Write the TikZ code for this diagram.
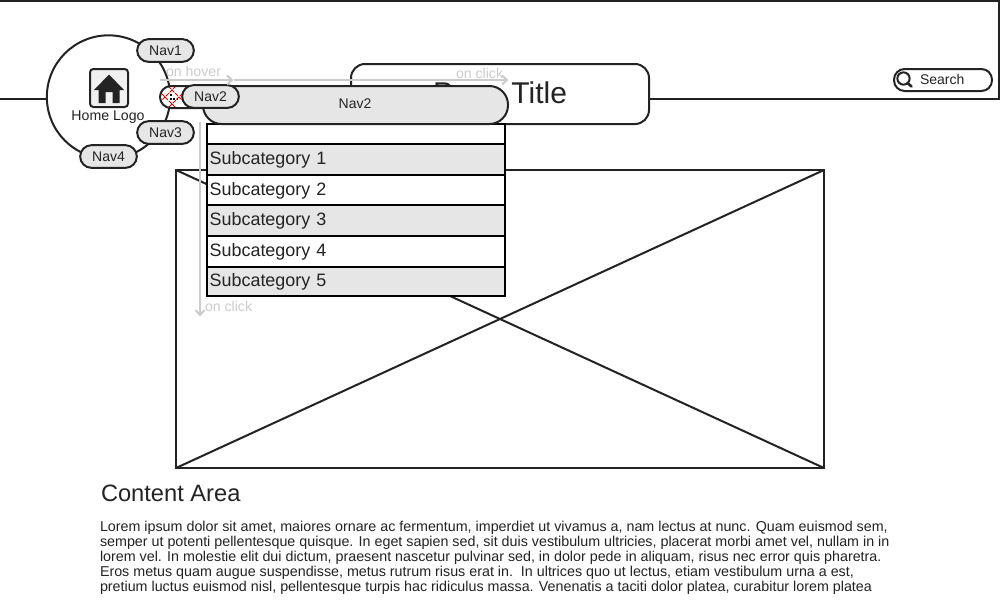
\documentclass[tikz,border=0pt]{standalone}
\usepackage{fontspec}
\setmainfont{Liberation Sans}
\definecolor{ink}{HTML}{232323}
\definecolor{panel}{HTML}{E6E6E6}
\definecolor{note}{HTML}{CCCCCC}
\newcommand{\fs}[1]{\fontsize{#1}{#1}\selectfont}
\tikzset{
  x=0.75pt,y=-0.75pt,
  every node/.style={outer sep=0pt},
  edge/.style={draw=ink,line width=1.5pt},
  navpill/.style={edge,fill=panel,rounded corners=8.5pt,minimum width=42.5pt,minimum height=17pt,inner sep=0pt,text=ink,font=\fs{10.5}},
  hint/.style={note,line width=1.5pt},
  hinttext/.style={text=note,font=\fs{10.6},inner sep=0pt,anchor=base west},
  rowbox/.style={draw=black,line width=1.5pt,minimum width=223.5pt,minimum height=23.25pt,inner sep=0pt,anchor=north west,text=ink,font=\fs{13.45},align=left,text width=219.5pt},
  lowrow/.style={text height=9.7pt,text depth=1.6pt},
  bodytext/.style={text=ink,font=\fs{10.72},inner sep=0pt,anchor=base west},
}
\begin{document}
\begin{tikzpicture}
\useasboundingbox (0,0) rectangle (1000,600);
\fill[white] (0,0) rectangle (1000,600);
% header
\draw[edge] (-5,1) -- (999,1) -- (999,99) -- (-5,99);
% logo circle
\node[edge,fill=white,circle,minimum size=92.5pt,inner sep=0pt] (logo) at (108.5,97) {};
\node[edge,fill=panel!60!white,rounded corners=2.5pt,minimum size=28.5pt,inner sep=0pt] (icon) at (109,88) {};
\fill[ink] (109,74.5) -- (124,90) -- (119.5,90) -- (119.5,103) -- (112.5,103) -- (112.5,92) -- (105.5,92) -- (105.5,103) -- (98.5,103) -- (98.5,90) -- (94,90) -- cycle;
\node[text=ink,font=\fs{10.6},inner sep=0pt,anchor=base] (homelabel) at (108,120.5) {Home Logo};
\node[navpill] (nav1) at (165.5,50.5) {Nav1};
\node[navpill] (nav3) at (165.5,132.5) {Nav3};
\node[navpill] (nav4) at (108.5,156.5) {Nav4};
% page title
\node[edge,fill=white,rounded corners=10.5pt,minimum width=223.5pt,minimum height=45pt,inner sep=0pt] (title) at (500,94) {};
\node[text=ink,font=\fs{22.5},inner sep=0pt,anchor=base] (titlelabel) at (500,103) {Page Title};
% search
\node[edge,fill=white,rounded corners=8pt,minimum width=73.5pt,minimum height=16.5pt,inner sep=0pt] (search) at (943,80) {};
\node[text=ink,font=\fs{10.5},inner sep=0pt,anchor=base west] (searchlabel) at (920,84) {Search};
\draw[ink,line width=1.5pt] (903.5,78.5) circle (4.6pt);
\draw[ink,line width=2pt,line cap=round] (907.5,83) -- (911.5,86.5);
% image placeholder
\node[edge,fill=white,minimum width=486pt,minimum height=223.5pt,inner sep=0pt,anchor=north west] (image) at (176,170) {};
\draw[edge] (image.north west) -- (image.south east);
\draw[edge] (image.south west) -- (image.north east);
% hidden red item
\fill[white,rounded corners=8pt] (160,86) rectangle (205,108);
\begin{scope}
\clip[rounded corners=8pt] (160,86) rectangle (205,108);
\draw[red!90!black,dash pattern=on 3pt off 0.8pt,line width=0.75pt] (158,90) -- (176,108) (168,86) -- (190,108) (176,86) -- (154,108) (190,86) -- (168,108);
\end{scope}
\draw[edge] (205,86) -- (171,86) arc[start angle=90,end angle=270,radius=8.25pt] -- (205,108);
\draw[black,line width=0.8pt,dash pattern=on 1.2pt off 1.5pt] (171,94) -- (171,99) -- (179,99);
% submenu
\node[draw=black,line width=1.5pt,fill=white,minimum width=223.5pt,minimum height=129pt,inner sep=0pt,anchor=north west] (menu) at (207,124) {};
\node[rowbox,fill=panel] (sub1) at (207,144) {Subcategory 1};
\node[rowbox,fill=white] (sub2) at (207,175) {Subcategory 2};
\node[rowbox,fill=panel,lowrow] (sub3) at (207,205) {Subcategory 3};
\node[rowbox,fill=white,lowrow] (sub4) at (207,236) {Subcategory 4};
\node[rowbox,fill=panel,lowrow,minimum height=21.75pt] (sub5) at (207,267) {Subcategory 5};
% open nav2
\node[edge,fill=panel,rounded corners=14pt,minimum width=228.75pt,minimum height=28.5pt,inner sep=0pt] (navopen) at (355.5,105) {};
\node[text=ink,font=\fs{10.5},inner sep=0pt] (navopenlabel) at (355,104) {Nav2};
\node[navpill] (nav2) at (210.5,96.5) {Nav2};
% interaction hints
\coordinate (hoverstart) at (160,80);
\coordinate (hoverend) at (232,80);
\coordinate (clickstart) at (234,80);
\coordinate (clickend) at (507,80);
\coordinate (downstart) at (200,122);
\coordinate (downend) at (200,315);
\draw[hint] (hoverstart) -- (hoverend);
\draw[hint] (227,75.5) -- (hoverend) -- (227,84.5);
\draw[hint] (clickstart) -- (clickend);
\draw[hint] (502,75.5) -- (clickend) -- (502,84.5);
\draw[hint] (downstart) -- (downend);
\draw[hint] (195.5,310) -- (downend) -- (204.5,310);
\node[hinttext] (hoverlabel) at (166,76) {on hover};
\node[hinttext] (clicklabel) at (456,78) {on click};
\node[hinttext] (downlabel) at (205,311) {on click};
% content
\node[text=ink,font=\fs{17.75},inner sep=0pt,anchor=base west] (heading) at (101,501) {Content Area};
\node[bodytext] (l1) at (100,531) {Lorem ipsum dolor sit amet, maiores ornare ac fermentum, imperdiet ut vivamus a, nam lectus at nunc. Quam euismod sem,};
\node[bodytext] (l2) at (100,546) {semper ut potenti pellentesque quisque. In eget sapien sed, sit duis vestibulum ultricies, placerat morbi amet vel, nullam in in};
\node[bodytext] (l3) at (100,561) {lorem vel. In molestie elit dui dictum, praesent nascetur pulvinar sed, in dolor pede in aliquam, risus nec error quis pharetra.};
\node[bodytext] (l4) at (100,576) {Eros metus quam augue suspendisse, metus rutrum risus erat in.\ \ In ultrices quo ut lectus, etiam vestibulum urna a est,};
\node[bodytext] (l5) at (100,591) {pretium luctus euismod nisl, pellentesque turpis hac ridiculus massa. Venenatis a taciti dolor platea, curabitur lorem platea};
\end{tikzpicture}
\end{document}
